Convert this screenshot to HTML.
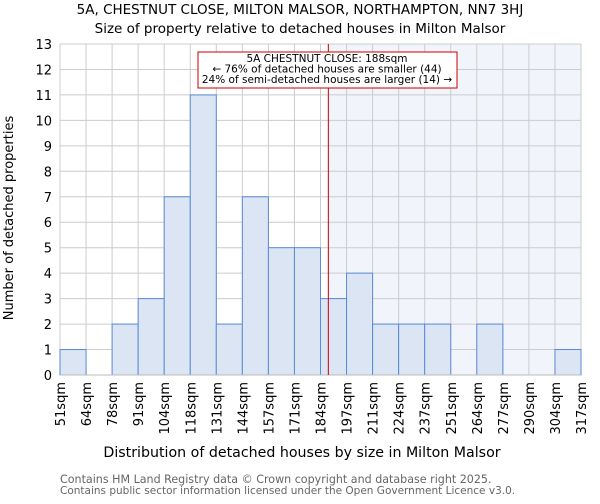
<!DOCTYPE html>
<html><head><meta charset="utf-8"><style>
body{margin:0;background:#fff;font-family:"DejaVu Sans","Liberation Sans",sans-serif}
svg text{font-family:"DejaVu Sans","Liberation Sans",sans-serif}
</style></head><body>
<svg id="c" width="600" height="500" xmlns="http://www.w3.org/2000/svg">
<text x="300" y="14" text-anchor="middle" font-size="13.5">5A, CHESTNUT CLOSE, MILTON MALSOR, NORTHAMPTON, NN7 3HJ</text>
<text x="300" y="33" text-anchor="middle" font-size="13.5">Size of property relative to detached houses in Milton Malsor</text>
<text x="302" y="457" text-anchor="middle" font-size="14.2">Distribution of detached houses by size in Milton Malsor</text>
<text transform="translate(13,218) rotate(-90)" text-anchor="middle" font-size="13">Number of detached properties</text>
<text x="60" y="483" font-size="11.1" fill="#666">Contains HM Land Registry data © Crown copyright and database right 2025.</text>
<text x="60" y="494" font-size="10.5" fill="#666">Contains public sector information licensed under the Open Government Licence v3.0.</text>
</svg>
<script>
const categories=["51sqm","64sqm","78sqm","91sqm","104sqm","118sqm","131sqm","144sqm","157sqm","171sqm","184sqm","197sqm","211sqm","224sqm","237sqm","251sqm","264sqm","277sqm","290sqm","304sqm","317sqm"];
const counts=[1,0,2,3,7,11,2,7,5,5,3,4,2,2,2,0,2,0,0,1];
const yTicks=[0,1,2,3,4,5,6,7,8,9,10,11,12,13];
const binStart=51, binEnd=317, marker=188;
const L=60,R=581,T=44,B=375,yMax=13;
const svg=document.getElementById('c');
const NS='http://www.w3.org/2000/svg';
const bw=(R-L)/counts.length;
const x=i=>L+i*bw;
const xv=v=>L+(v-binStart)/(binEnd-binStart)*(R-L);
const y=v=>B-v/yMax*(B-T);
function mk(t,a){const e=document.createElementNS(NS,t);for(const k in a)e.setAttribute(k,a[k]);svg.appendChild(e);return e;}
let e=mk('rect',{x:xv(marker),y:T,width:R-xv(marker),height:B-T,fill:'#f1f4fb'});


yTicks.forEach(t=>{
 let g=mk('line',{x1:L,x2:R,y1:y(t),y2:y(t),stroke:'#ccc','stroke-width':1});
 
 
 let l=mk('text',{x:L-8,y:y(t)+5,'text-anchor':'end','font-size':13});l.textContent=t;
 
 
});
categories.forEach((c,i)=>{
 let g=mk('line',{x1:x(i),x2:x(i),y1:T,y2:B,stroke:'#ccc','stroke-width':1});
 
 
 let l=mk('text',{transform:`translate(${x(i)+5},382) rotate(-90)`,'text-anchor':'end','font-size':13});l.textContent=c;
 
 
});
counts.forEach((v,i)=>{
 if(!v)return;
 let b=mk('rect',{x:x(i),y:y(v),width:bw,height:B-y(v),fill:'#dbe5f4',stroke:'#5a8ad8','stroke-width':1});
 
 
});
e=mk('line',{x1:L,x2:R,y1:B,y2:B,stroke:'#bbb','stroke-width':1});


e=mk('line',{x1:xv(marker),x2:xv(marker),y1:T,y2:B,stroke:'#cc0000','stroke-width':1});


e=mk('rect',{x:198,y:52,width:259,height:36,fill:'#fff',stroke:'#cc0000','stroke-width':1});


["5A CHESTNUT CLOSE: 188sqm","← 76% of detached houses are smaller (44)","24% of semi-detached houses are larger (14) →"].forEach((s,i)=>{
 let t=mk('text',{x:327,y:62+i*10.5,'text-anchor':'middle','font-size':10.5});t.textContent=s;
 
 
});
</script>
</body></html>
